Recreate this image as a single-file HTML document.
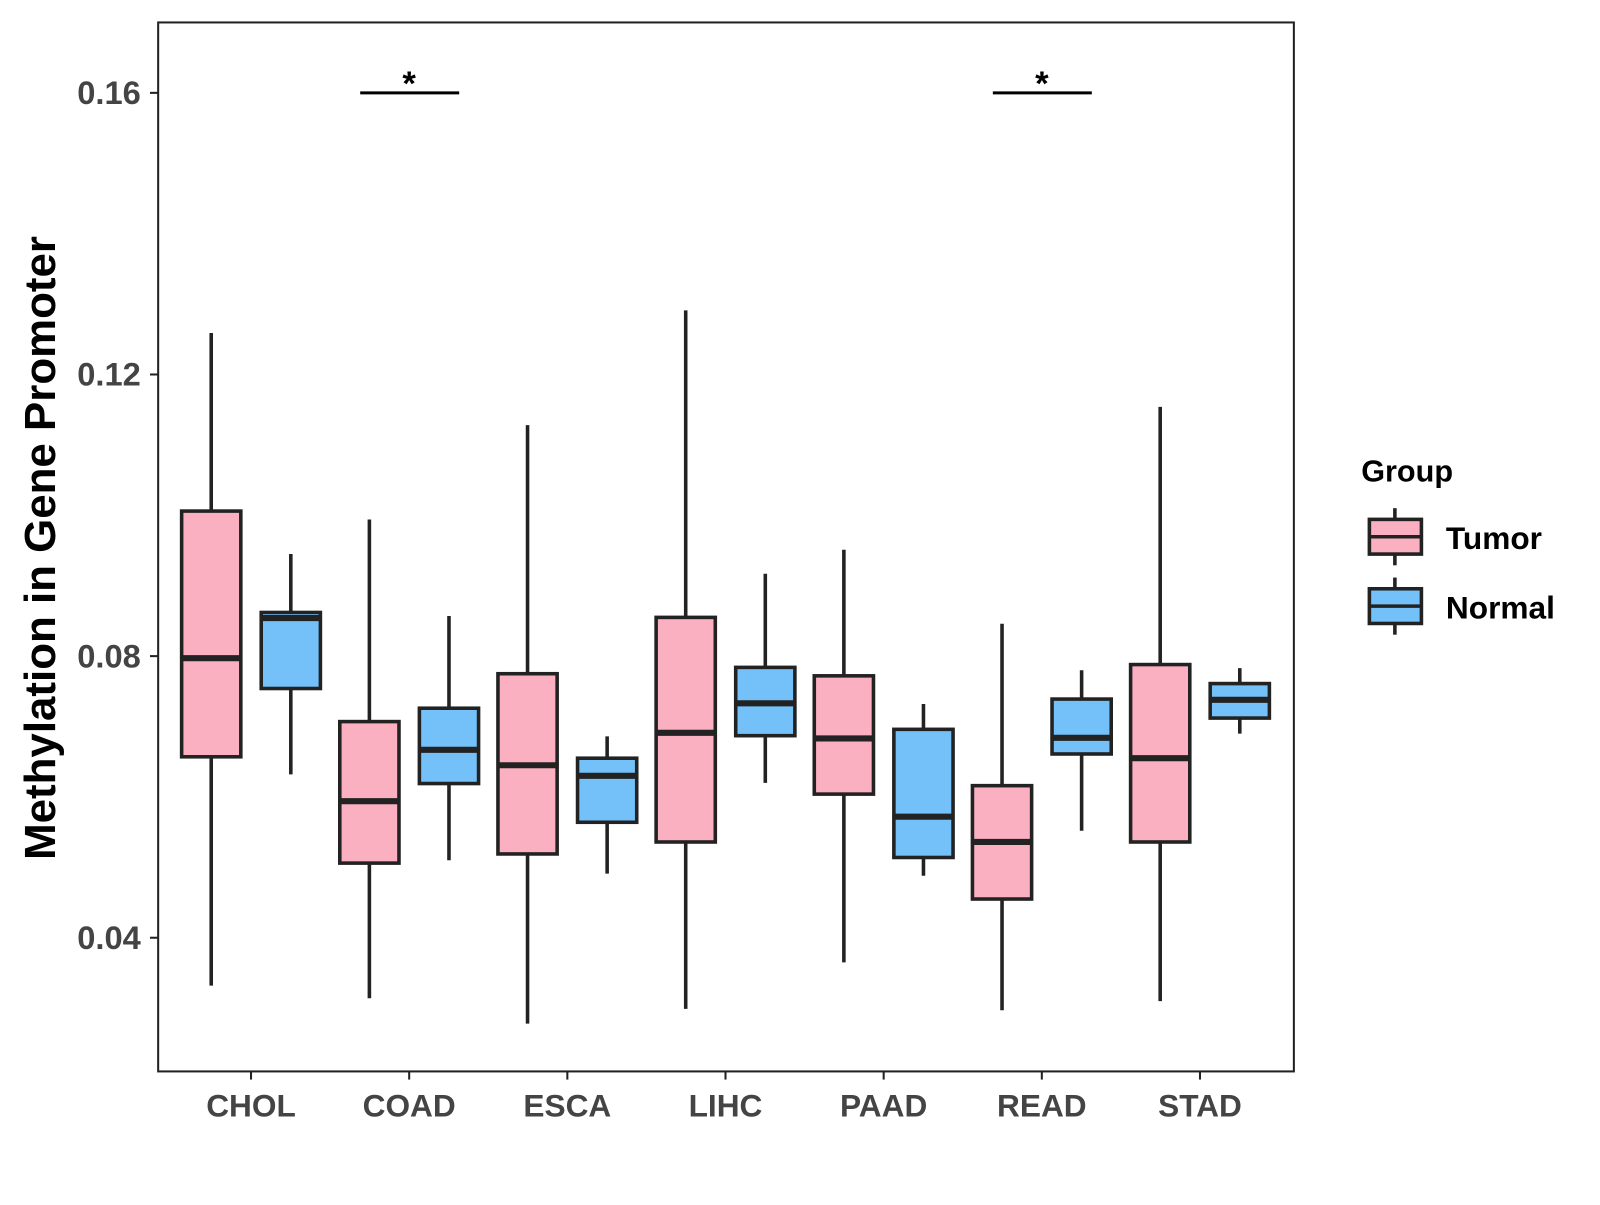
<!DOCTYPE html>
<html><head><meta charset="utf-8"><style>
body{margin:0;background:#fff}
svg text{font-family:"Liberation Sans",Arial,sans-serif;font-weight:bold}
</style></head><body>
<svg id="chart" width="1600" height="1200" viewBox="0 0 1600 1200">
<g transform="scale(1.0204)">
<rect x="155" y="22" width="1113" height="1028" fill="#fff" stroke="#222" stroke-width="2"/>
<g id="marks"></g>
<g id="axes"></g>
<text x="0" y="0" transform="translate(54,537) rotate(-90)" text-anchor="middle" font-size="43" fill="#000">Methylation in Gene Promoter</text>
<g>
<text x="1334" y="472" font-size="30" fill="#000">Group</text>
<g>
<line x1="1367" y1="498" x2="1367" y2="554" stroke="#222" stroke-width="3.5"/>
<rect x="1342" y="509" width="51" height="34" fill="#FBB0C2" stroke="#222" stroke-width="3.5"/>
<line x1="1342" y1="526" x2="1393" y2="526" stroke="#222" stroke-width="3.5"/>
<text x="1417" y="538" font-size="31" fill="#000">Tumor</text></g>
<g>
<line x1="1367" y1="566" x2="1367" y2="622" stroke="#222" stroke-width="3.5"/>
<rect x="1342" y="577" width="51" height="34" fill="#74C1F9" stroke="#222" stroke-width="3.5"/>
<line x1="1342" y1="594" x2="1393" y2="594" stroke="#222" stroke-width="3.5"/>
<text x="1417" y="606" font-size="31" fill="#000">Normal</text></g>
</g>
</g>
</svg>
<script>
const categories=["CHOL","COAD","ESCA","LIHC","PAAD","READ","STAD"];
// [lower whisker, q1, median, q3, upper whisker]
const tumorStats=[[0.0332,0.0657,0.0797,0.1006,0.1259],[0.0314,0.0506,0.0594,0.0707,0.0994],[0.0278,0.0519,0.0645,0.0775,0.1128],[0.0299,0.0536,0.0691,0.0855,0.1291],[0.0365,0.0604,0.0683,0.0772,0.0951],[0.0297,0.0455,0.0536,0.0616,0.0846],[0.0310,0.0536,0.0655,0.0788,0.1154]];
const normalStats=[[0.0632,0.0754,0.0854,0.0862,0.0945],[0.0510,0.0619,0.0667,0.0726,0.0857],[0.0491,0.0564,0.0630,0.0655,0.0686],[0.0620,0.0687,0.0733,0.0784,0.0917],[0.0488,0.0514,0.0572,0.0696,0.0732],[0.0552,0.0661,0.0684,0.0739,0.0780],[0.0690,0.0712,0.0738,0.0761,0.0783]];
const yTicks=[0.04,0.08,0.12,0.16];
const yTickLabels=["0.04","0.08","0.12","0.16"];
const significant=["COAD","READ"];
const sigLevel=0.16;

const NS="http://www.w3.org/2000/svg";
const y=v=>91+(0.16-v)*6900;
const x=c=>246+categories.indexOf(c)*155;
function mk(tag,attrs,parent){const e=document.createElementNS(NS,tag);for(const k in attrs)e.setAttribute(k,attrs[k]);parent.appendChild(e);return e;}
const marks=document.getElementById('marks'),axes=document.getElementById('axes');
function box(cx,s,fill,name){
  const g=mk('g',{},marks);
  
  
  mk('line',{x1:cx,x2:cx,y1:y(s[4]),y2:y(s[0]),stroke:'#222','stroke-width':3.5},g);
  mk('rect',{x:cx-29,width:58,y:y(s[3]),height:y(s[1])-y(s[3]),fill:fill,stroke:'#222','stroke-width':3.5},g);
  mk('line',{x1:cx-29,x2:cx+29,y1:y(s[2]),y2:y(s[2]),stroke:'#222','stroke-width':6},g);
}
categories.forEach((c,i)=>{
  box(x(c)-39,tumorStats[i],'#FBB0C2','box-tumor-'+c.toLowerCase());
  box(x(c)+39,normalStats[i],'#74C1F9','box-normal-'+c.toLowerCase());
  const t=mk('line',{x1:x(c),x2:x(c),y1:1050,y2:1058,stroke:'#222','stroke-width':2},axes);
  
  
  const l=mk('text',{x:x(c),y:1094,'text-anchor':'middle','font-size':31,fill:'#444'},axes);
  l.textContent=c;
  
  
});
yTicks.forEach((v,i)=>{
  const t=mk('line',{x1:147,x2:155,y1:y(v),y2:y(v),stroke:'#222','stroke-width':2},axes);
  
  
  const l=mk('text',{x:138,y:y(v)+11,'text-anchor':'end','font-size':32,fill:'#444'},axes);
  l.textContent=yTickLabels[i];
  
  
});
significant.forEach(c=>{
  const g=mk('g',{},marks);
  
  
  mk('line',{x1:x(c)-48,x2:x(c)+49,y1:y(sigLevel),y2:y(sigLevel),stroke:'#000','stroke-width':3},g);
  const s=mk('text',{x:x(c),y:y(sigLevel)+2,'text-anchor':'middle','font-size':34,fill:'#000'},g);
  s.textContent='*';
});
</script>
</body></html>
